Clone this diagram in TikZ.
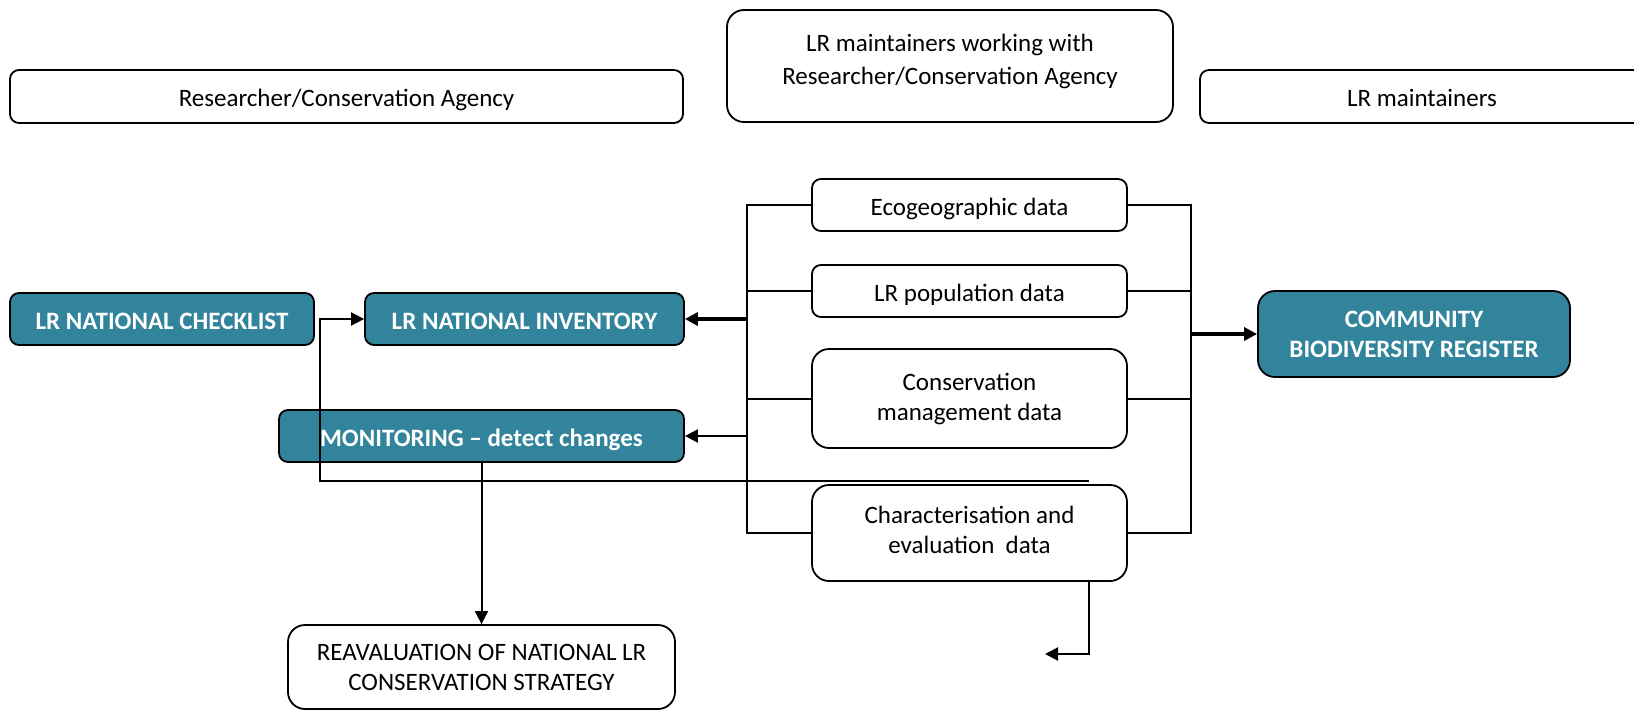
\documentclass[tikz,border=0pt]{standalone}
\usepackage{fontspec}
\setmainfont{Carlito}
\usetikzlibrary{arrows.meta}
\definecolor{lrteal}{RGB}{49,132,155}

\begin{document}
\begin{tikzpicture}[
    x=1pt, y=-1pt,
    tip/.tip={Triangle[length=13pt,width=13pt]},
    box/.style={draw, line width=1.8pt, rounded corners=9pt, fill=white, align=center,
        inner sep=0pt, minimum width=315pt, minimum height=52pt,
        font=\fontsize{25}{30}\selectfont},
    onebox/.style={box, text height=23pt, text depth=3pt},
    tallbox/.style={box, rounded corners=17pt},
    tealbox/.style={fill=lrteal, text=white, font=\fontsize{25}{30}\selectfont\bfseries},
    link/.style={line width=2pt},
    biglink/.style={line width=3.2pt},
]
    \useasboundingbox (0,0) rectangle (1634,710);

    % who does what
    \node[onebox, minimum width=673pt, minimum height=53pt] (res) at (346.5,96.5) {Researcher/Conservation Agency};
    \node[tallbox, minimum width=446pt, minimum height=112pt, font=\fontsize{25}{33}\selectfont] (mix) at (950,66)
        {LR maintainers working with\\Researcher/Conservation Agency\rule[-14pt]{0pt}{14pt}};
    \node[onebox, minimum width=444pt, minimum height=53pt] (mnt) at (1422,96.5) {LR maintainers};

    \node[onebox, tealbox, minimum width=304pt] (chk) at (162,319) {LR NATIONAL CHECKLIST};
    \node[onebox, tealbox, minimum width=319pt] (inv) at (524.5,319) {LR NATIONAL INVENTORY};
    \node[onebox, tealbox, minimum width=405pt] (mon) at (481.5,436) {MONITORING -- detect changes};
    \node[tallbox, tealbox, minimum width=312pt, minimum height=86pt] (com) at (1414,334) {COMMUNITY\\BIODIVERSITY REGISTER};

    \node[onebox] (eco) at (969.5,205) {Ecogeographic data};
    \node[onebox] (pop) at (969.5,291) {LR population data};
    \node[tallbox, minimum height=99pt] (cons) at (969.5,398.5) {Conservation\\management data\rule[-2pt]{0pt}{2pt}};
    \node[tallbox, minimum height=96pt] (char) at (969.5,533) {Characterisation and\\evaluation~~data\rule[-6pt]{0pt}{6pt}};

    \node[tallbox, minimum width=387pt, minimum height=84pt] (rev) at (481.5,667) {REAVALUATION OF NATIONAL LR\\CONSERVATION STRATEGY};

    \coordinate (lb) at (747,205);
    \coordinate (rb) at (1191,205);
    \coordinate (fb) at (1089,481);
    \coordinate (fl) at (320,481);
    \coordinate (ce) at (1045,654);

    % data buses
    \draw[link] (eco.west) -- (lb) |- (char.west);
    \draw[link] (pop.west) -- (pop.west -| lb);
    \draw[link] (cons.west) -- (cons.west -| lb);
    \draw[link] (eco.east) -- (rb) |- (char.east);
    \draw[link] (pop.east) -- (pop.east -| rb);
    \draw[link] (cons.east) -- (cons.east -| rb);

    \draw[biglink,-tip] (inv.east -| lb) -- (inv.east);
    \draw[link,-tip] (mon.east -| lb) -- (mon.east);
    \draw[biglink,-tip] (com.west -| rb) -- (com.west);

    \draw[link,-tip] (fb) -- (fl) |- (inv.west);
    \draw[link,-tip] (mon.south) -- (rev.north);
    \draw[link,-tip] (char.south -| fb) -- (fb |- ce) -- (ce);
\end{tikzpicture}
\end{document}
